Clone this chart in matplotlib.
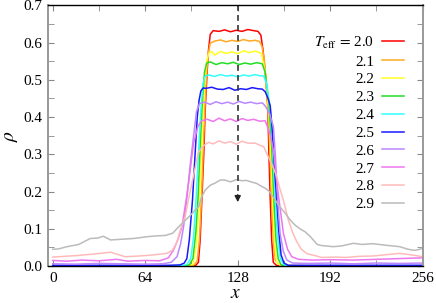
import matplotlib
matplotlib.use('Agg')
import matplotlib.pyplot as plt
from matplotlib.ticker import MultipleLocator, FormatStrFormatter

plt.rcParams['font.family'] = ['Liberation Serif', 'STIXGeneral', 'DejaVu Serif']
plt.rcParams['mathtext.fontset'] = 'stix'

# density profiles rho(x), one per T_eff
temps = ['2.0', '2.1', '2.2', '2.3', '2.4', '2.5', '2.6', '2.7', '2.8', '2.9']
colors = ['#ff0000', '#ffaa22', '#ffff22', '#22dd22', '#33ffff',
          '#1a1aff', '#bb88ff', '#ee77ee', '#ffbbbb', '#bbbbbb']

x_20 = [0, 64, 96, 99, 100.8, 102, 103.2, 104.5, 105.5, 106.8, 107.8, 109, 111, 115, 119, 123, 127, 131,
        135, 139, 142, 144, 145.5, 147, 148.8, 149.6, 150.5, 151.5, 152.6, 155, 192, 256]
r_20 = [0.0, 0.0, 0.0, 0.002, 0.01, 0.07, 0.18, 0.3, 0.42, 0.52, 0.58, 0.622, 0.632, 0.630, 0.634, 0.629,
        0.633, 0.630, 0.635, 0.632, 0.630, 0.62, 0.58, 0.52, 0.43, 0.3, 0.18, 0.07, 0.01, 0.001, 0.0, 0.0]

x_21 = [0, 64, 95, 98, 100, 101.5, 102.8, 104, 105.2, 106.5, 107.8, 109, 112, 116, 120, 124, 128, 132,
        136, 140, 143, 144.8, 146.5, 148, 149.5, 150.5, 151.5, 152.6, 154, 157, 192, 256]
r_21 = [0, 0, 0.001, 0.003, 0.015, 0.07, 0.17, 0.3, 0.42, 0.52, 0.575, 0.598, 0.604, 0.607, 0.602, 0.606,
        0.603, 0.608, 0.604, 0.606, 0.603, 0.59, 0.55, 0.48, 0.38, 0.28, 0.17, 0.07, 0.015, 0.002, 0, 0]

x_22 = [0, 64, 93, 97, 99.5, 101.5, 102.8, 104.5, 106.5, 108, 110, 112, 116, 120, 124, 128, 132, 136,
        140, 142.5, 144.5, 147, 149.5, 151, 152.3, 153.5, 155, 158, 192, 256]
r_22 = [0, 0, 0.001, 0.004, 0.06, 0.17, 0.3, 0.45, 0.55, 0.572, 0.576, 0.566, 0.576, 0.571, 0.575, 0.57,
        0.578, 0.573, 0.577, 0.574, 0.57, 0.52, 0.42, 0.3, 0.17, 0.06, 0.01, 0.001, 0, 0]

x_23 = [0, 64, 91, 94.5, 97, 99, 100.5, 102, 103.5, 105, 106.5, 109, 113, 117, 121, 125, 129, 133, 137,
        141, 145, 147, 149.5, 151.5, 153, 154.5, 156, 158, 161, 192, 256]
r_23 = [0, 0, 0.001, 0.003, 0.02, 0.09, 0.18, 0.32, 0.44, 0.52, 0.545, 0.548, 0.541, 0.546, 0.543, 0.547,
        0.541, 0.545, 0.542, 0.546, 0.543, 0.52, 0.44, 0.32, 0.18, 0.07, 0.02, 0.003, 0.0, 0, 0]

x_24 = [0, 64, 89, 92.5, 95.5, 97.5, 99.2, 100.8, 102.5, 104, 105.5, 108, 112, 116, 120, 124, 128, 132,
        136, 140, 143, 146, 148, 150.5, 152.5, 154, 155.5, 157.5, 160, 163, 192, 256]
r_24 = [0, 0, 0.001, 0.003, 0.02, 0.08, 0.18, 0.3, 0.42, 0.49, 0.51, 0.513, 0.509, 0.514, 0.51, 0.512,
        0.508, 0.513, 0.51, 0.514, 0.511, 0.51, 0.49, 0.42, 0.3, 0.18, 0.08, 0.02, 0.003, 0.0, 0, 0]

x_25 = [0, 32, 64, 80, 88, 91, 92.8, 94.5, 96.7, 98.5, 100, 101.3, 102.5, 104, 106, 110, 114, 118, 122,
        126, 130, 134, 138, 142, 145, 147, 149, 150.5, 152, 153.5, 155, 156.5, 158, 160, 163, 176, 208, 256]
r_25 = [0.002, 0.002, 0.002, 0.002, 0.003, 0.008, 0.02, 0.07, 0.177, 0.3, 0.4, 0.446, 0.47, 0.478, 0.477,
        0.48, 0.475, 0.474, 0.479, 0.472, 0.476, 0.474, 0.479, 0.476, 0.475, 0.468, 0.45, 0.43, 0.36, 0.26,
        0.177, 0.09, 0.03, 0.008, 0.002, 0.002, 0.002, 0.002]

x_26 = [0, 16, 32, 48, 64, 76, 82, 86, 88.5, 90.5, 93, 95, 97.5, 99.5, 101.5, 105, 109, 113, 117, 121, 125,
        129, 133, 137, 141, 145, 147, 150, 152.7, 154, 155, 156.3, 157.3, 159.5, 162, 166, 176, 192, 208,
        224, 240, 256]
r_26 = [0.006, 0.005, 0.007, 0.006, 0.005, 0.006, 0.01, 0.025, 0.06, 0.105, 0.19, 0.267, 0.35, 0.415,
        0.436, 0.44, 0.434, 0.441, 0.436, 0.44, 0.435, 0.442, 0.437, 0.44, 0.436, 0.438, 0.43, 0.41, 0.374,
        0.3, 0.222, 0.14, 0.088, 0.04, 0.016, 0.008, 0.007, 0.008, 0.006, 0.008, 0.007, 0.008]

x_27 = [0, 10, 20, 32, 44, 52, 64, 74, 80, 83.6, 86.5, 89.4, 92, 94, 97.4, 100.5, 103, 107, 111, 115,
        119, 123, 127, 131, 135, 139, 143, 147, 150, 152.7, 156, 159.6, 162.5, 165.4, 170, 180, 192, 208,
        224, 240, 256]
r_27 = [0.015, 0.013, 0.016, 0.014, 0.018, 0.013, 0.015, 0.014, 0.022, 0.043, 0.07, 0.105, 0.17, 0.222,
        0.33, 0.375, 0.39, 0.394, 0.388, 0.397, 0.39, 0.395, 0.388, 0.396, 0.391, 0.394, 0.389, 0.39, 0.36,
        0.311, 0.195, 0.088, 0.045, 0.025, 0.018, 0.016, 0.017, 0.016, 0.018, 0.02, 0.022]

x_28 = [0, 8, 16, 28, 40, 46, 50, 60, 70, 79, 83, 86, 88.5, 91.6, 94, 96.3, 100.8, 104, 107.7, 111, 115,
        119, 123, 127, 131, 135, 140, 143, 146, 149.2, 152, 155, 157, 159.6, 163, 166, 168.8, 172, 176,
        181.5, 186, 196, 203, 212, 222, 232, 240, 248, 256]
r_28 = [0.024, 0.026, 0.028, 0.032, 0.037, 0.03, 0.025, 0.027, 0.03, 0.034, 0.043, 0.065, 0.1, 0.132,
        0.18, 0.222, 0.305, 0.322, 0.332, 0.328, 0.336, 0.33, 0.334, 0.327, 0.335, 0.33, 0.33, 0.325, 0.32,
        0.293, 0.27, 0.24, 0.21, 0.177, 0.124, 0.09, 0.066, 0.045, 0.033, 0.028, 0.023, 0.024, 0.023,
        0.026, 0.027, 0.031, 0.034, 0.03, 0.025]

x_29 = [0, 4, 10, 18, 26, 31, 35, 40, 48, 56, 60, 66, 72, 77.8, 83, 87, 91, 95, 98, 101, 103, 105.5, 109,
        112, 116, 119, 123, 127, 131, 134, 138, 141, 144, 147, 150, 154, 157, 161, 164, 167.7, 171, 174.6,
        178, 180.3, 183, 186, 194, 200, 208, 214, 221.6, 230, 240, 246, 250, 253, 256]
r_29 = [0.045, 0.046, 0.052, 0.058, 0.074, 0.075, 0.08, 0.07, 0.072, 0.074, 0.076, 0.079, 0.081, 0.082,
        0.088, 0.105, 0.12, 0.135, 0.148, 0.159, 0.185, 0.204, 0.217, 0.222, 0.231, 0.231, 0.226, 0.232,
        0.229, 0.23, 0.225, 0.222, 0.215, 0.209, 0.2, 0.177, 0.16, 0.141, 0.125, 0.11, 0.1, 0.092, 0.08,
        0.07, 0.058, 0.055, 0.052, 0.054, 0.061, 0.058, 0.06, 0.056, 0.052, 0.045, 0.042, 0.044, 0.048]

profiles_x = [x_20, x_21, x_22, x_23, x_24, x_25, x_26, x_27, x_28, x_29]
profiles_r = [r_20, r_21, r_22, r_23, r_24, r_25, r_26, r_27, r_28, r_29]

arrow_x = 128
arrow_top = 0.7
arrow_tip = 0.164

fig = plt.figure(figsize=(4.36, 3.03), dpi=100)
ax = fig.add_axes([0.111, 0.122, 0.8585, 0.8605])

for i in range(len(temps)):
    if i == 0:
        label = r'$T_{\rm eff}\,=\,$' + temps[i]
    else:
        label = temps[i]
    ax.plot(profiles_x[i], profiles_r[i], color=colors[i], lw=1.1, label=label)

# dashed arrow
ax.plot([arrow_x, arrow_x], [arrow_top, arrow_tip + 0.03], color='#333333', lw=1.2, ls=(0, (3.5, 2.5)))
ax.annotate('', xy=(arrow_x, arrow_tip), xytext=(arrow_x, arrow_tip + 0.035),
            arrowprops=dict(arrowstyle='-|>', color='#222222', lw=1.0, mutation_scale=9))

ax.set_xlim(-3, 256)
ax.set_ylim(0, 0.7)
ax.xaxis.set_major_locator(MultipleLocator(64))
ax.xaxis.set_minor_locator(MultipleLocator(32))
ax.yaxis.set_major_locator(MultipleLocator(0.1))
ax.yaxis.set_minor_locator(MultipleLocator(0.05))
ax.yaxis.set_major_formatter(FormatStrFormatter('%.1f'))
ax.tick_params(which='both', direction='in', top=True, right=True, length=4, color='#888888',
               labelsize=11, pad=4)
for side in ['left', 'right']:
    ax.spines[side].set_color('#999999')
    ax.spines[side].set_linewidth(1.4)
for side in ['top', 'bottom']:
    ax.spines[side].set_color('black')
    ax.spines[side].set_linewidth(1.0)

ax.set_xlabel(r'$x$', fontsize=14, labelpad=0)
ax.set_ylabel(r'$\rho$', fontsize=14, labelpad=3)

leg = ax.legend(loc='upper right', frameon=False, markerfirst=False, fontsize=11,
                handlelength=1.45, handletextpad=0.55, labelspacing=0.27,
                bbox_to_anchor=(0.988, 0.94))

fig.savefig('out.png', dpi=100)
